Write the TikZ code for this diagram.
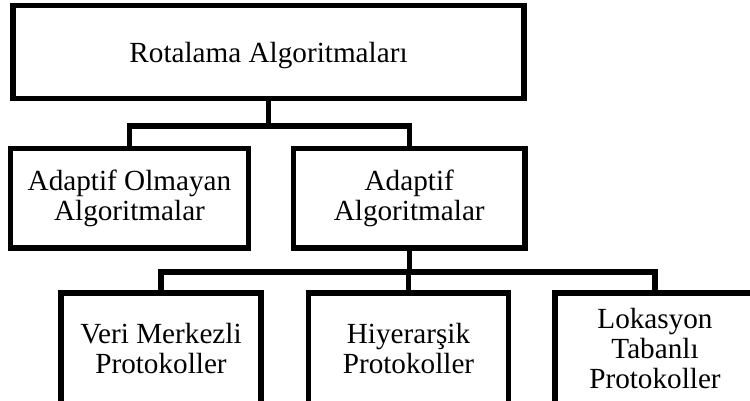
\documentclass[tikz,border=0pt]{standalone}
\usepackage{fontspec}
\setmainfont{Liberation Serif}

\begin{document}
\begin{tikzpicture}[x=0.5pt,y=-0.5pt,
	box/.style={draw,line width=2.6pt,inner sep=0pt,align=center,font=\rmfamily\fontsize{14.6}{15}\selectfont},
	link/.style={line width=2.6pt}]
	\useasboundingbox (0,0) rectangle (750,401);
	\clip (0,0) rectangle (750,401);

	\node[box,text depth=0pt,minimum width=255.5pt,minimum height=46.5pt] (rot) at (268.5,52) {Rotalama Algoritmaları};
	\node[box,minimum width=119pt,minimum height=49.75pt] (nad) at (129.5,198.25) {Adaptif Olmayan\\Algoritmalar};
	\node[box,minimum width=115.75pt,minimum height=49.75pt] (ad) at (409.25,198.25) {Adaptif\\Algoritmalar};
	\node[box,minimum width=100pt,minimum height=56pt] (veri) at (161,349) {Veri Merkezli\\Protokoller};
	\node[box,minimum width=100pt,minimum height=56pt] (hiy) at (408.5,349) {Hiyerarşik\\Protokoller};
	\node[box,minimum width=100pt,minimum height=56pt] (lok) at (655,349) {Lokasyon\\Tabanlı\\Protokoller};

	\coordinate (j1) at (268.5,126);
	\coordinate (j2) at (409.25,272);

	\draw[link] (rot.south) -- (j1);
	\draw[link] (nad.north) |- (j1);
	\draw[link] (ad.north) |- (j1);

	\draw[link] (ad.south) -- (j2);
	\draw[link] (veri.north) |- (j2);
	\draw[link] (hiy.north) |- (j2);
	\draw[link] (lok.north) |- (j2);
\end{tikzpicture}
\end{document}
